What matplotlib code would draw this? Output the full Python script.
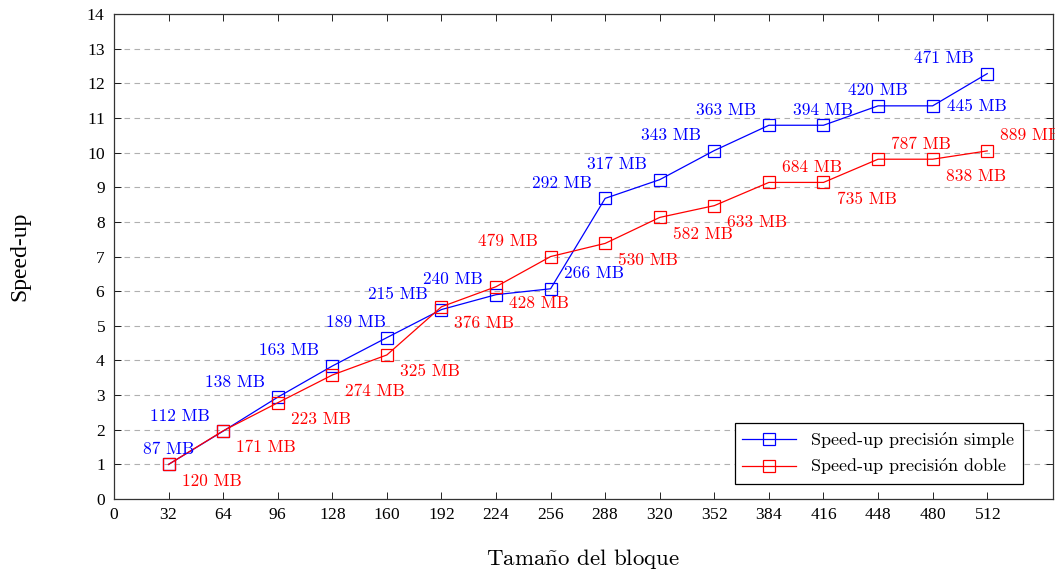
import matplotlib.pyplot as plt

# Tamaño del bloque y speed-up medido
bloque = [32, 64, 96, 128, 160, 192, 224, 256, 288, 320, 352, 384, 416, 448, 480, 512]
speedup_simple = [1.0, 1.96, 2.94, 3.84, 4.66, 5.47, 5.90, 6.07, 8.68, 9.22, 10.06, 10.79, 10.79, 11.35, 11.35, 12.28]
speedup_doble = [1.0, 1.97, 2.78, 3.58, 4.16, 5.55, 6.13, 7.00, 7.38, 8.13, 8.47, 9.14, 9.14, 9.81, 9.81, 10.05]
mem_simple = [87, 112, 138, 163, 189, 215, 240, 266, 292, 317, 343, 363, 394, 420, 445, 471]
mem_doble = [120, 171, 223, 274, 325, 376, 428, 479, 530, 582, 633, 684, 735, 787, 838, 889]

cm = ['cmr10', 'DejaVu Serif']
pala = ['Liberation Serif', 'DejaVu Serif']
plt.rcParams['font.family'] = cm
plt.rcParams['mathtext.fontset'] = 'cm'
plt.rcParams['axes.formatter.use_mathtext'] = True

fig = plt.figure(figsize=(10.55, 5.73), dpi=100)
ax = fig.add_axes([0.108, 0.129, 0.890, 0.8465])

ax.plot(bloque, speedup_simple, color='blue', lw=0.9, marker='s', ms=8.5,
        mfc='none', mec='blue', mew=0.9,
        label=r'Speed-up precisi$\mathrm{\acute{o}}$n simple')
ax.plot(bloque, speedup_doble, color='red', lw=0.9, marker='s', ms=8.5,
        mfc='none', mec='red', mew=0.9,
        label=r'Speed-up precisi$\mathrm{\acute{o}}$n doble')

# posición de cada etiqueta (en puntos) respecto a su marcador
NO, N, NE, E, SE = (-31, 11), (0, 11), (31, 11), (32, 0), (31, -12)
pos_simple = [N, NO, NO, NO, (-22, 11), NO, NO, NE, NO, NO, NO, NO, N, N, E, NO]
pos_doble = [SE] * 16
pos_doble[7] = NO
for i in (11, 13, 15):
    pos_doble[i] = NE

for x, y, m, p in zip(bloque, speedup_simple, mem_simple, pos_simple):
    ax.annotate(f'{m} MB', (x, y), xytext=p, textcoords='offset points',
                ha='center', va='center', color='blue', fontsize=12.5,
                annotation_clip=False)
for x, y, m, p in zip(bloque, speedup_doble, mem_doble, pos_doble):
    ax.annotate(f'{m} MB', (x, y), xytext=p, textcoords='offset points',
                ha='center', va='center', color='red', fontsize=12.5,
                annotation_clip=False)

ax.set_xlim(0, 550.5)
ax.set_ylim(0, 14)
ax.set_xticks(range(0, 513, 32))
ax.set_yticks(range(0, 15))
ax.tick_params(direction='in', length=5, width=0.6, top=True, right=True,
               labelsize=12.5, pad=6)
for lab in ax.get_xticklabels() + ax.get_yticklabels():
    lab.set_family(pala)
for s in ax.spines.values():
    s.set_linewidth(0.9)
    s.set_color('#333333')

ax.yaxis.grid(True, linestyle=(0, (5, 4)), color='#b0b0b0', lw=0.8)
ax.set_axisbelow(True)

ax.set_xlabel(r'Tama$\mathrm{\tilde{n}}$o del bloque', fontsize=16.5, labelpad=17)
ax.set_ylabel('Speed-up', fontsize=17, labelpad=40, family=pala)

leg = ax.legend(loc='lower right', bbox_to_anchor=(0.968, 0.031), fontsize=13,
                fancybox=False, framealpha=1, edgecolor='black',
                handlelength=3, borderpad=0.4, labelspacing=0.3,
                borderaxespad=0)
leg.get_frame().set_linewidth(0.9)

fig.savefig('out.png', dpi=100)
